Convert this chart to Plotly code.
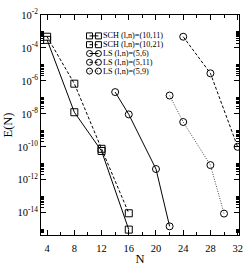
import plotly.graph_objects as go

# ---- data ----
sch_a_N = [4, 8, 12, 16]
sch_a_E = [3.1e-4, 1.26e-8, 5.6e-11, 9.5e-16]      # SCH (l,n)=(10,11) solid
sch_b_N = [4, 8, 12, 16]
sch_b_E = [4.8e-4, 6.8e-7, 7.6e-11, 9.3e-15]       # SCH (l,n)=(10,21) dashed
ls6_N = [14, 16, 20, 22]
ls6_E = [2.1e-7, 9.3e-9, 4.5e-12, 1.5e-15]         # LS (l,n)=(5,6) solid
ls11_N = [24, 28, 32]
ls11_E = [4.8e-4, 2.9e-6, 1.0e-10]                 # LS (l,n)=(5,11) dashed
ls9_N = [22, 24, 28, 30]
ls9_E = [1.3e-7, 3.2e-9, 7.8e-12, 8.9e-15]         # LS (l,n)=(5,9) dotted

legend_labels = ["SCH (l,n)=(10,11)", "SCH (l,n)=(10,21)", "LS (l,n)=(5,6)",
                 "LS (l,n)=(5,11)", "LS (l,n)=(5,9)"]
x_ticks = [4, 8, 12, 16, 20, 24, 28, 32]
x_minor = [6, 10, 14, 18, 22, 26, 30]
y_exps = [-2, -4, -6, -8, -10, -12, -14]

FONT = "Liberation Serif"
series = [
    (sch_a_N, sch_a_E, "square-open", "solid", 1.0, "black"),
    (sch_b_N, sch_b_E, "square-open", "3px,2px", 1.0, "black"),
    (ls6_N, ls6_E, "circle-open", "solid", 1.0, "black"),
    (ls11_N, ls11_E, "circle-open", "3px,2px", 1.0, "black"),
    (ls9_N, ls9_E, "circle-open", "1px,1.5px", 1.0, "#444"),
]

fig = go.Figure()
for (xs, ys, sym, dash, lw, col) in series:
    fig.add_trace(go.Scatter(
        x=xs, y=ys, mode="lines+markers", showlegend=False,
        line=dict(color=col, width=lw, dash=dash),
        marker=dict(symbol=sym, size=7, color="black", line=dict(width=1, color="black")),
    ))

# custom compact legend on an overlay axis pair (0..1 of plot area)
row_y = [0.905, 0.865, 0.825, 0.785, 0.745]
for i, (xs, ys, sym, dash, lw, col) in enumerate(series):
    fig.add_trace(go.Scatter(
        x=[0.245, 0.29], y=[row_y[i], row_y[i]], xaxis="x2", yaxis="y2",
        mode="lines+markers", showlegend=False, hoverinfo="skip",
        line=dict(color=col, width=lw, dash=dash),
        marker=dict(symbol=sym, size=6, color="black", line=dict(width=1, color="black")),
    ))
    fig.add_annotation(x=0.305, y=row_y[i], xref="paper", yref="paper",
                       text=legend_labels[i], showarrow=False, xanchor="left",
                       yanchor="middle", font=dict(family=FONT, size=8.2, color="black"))

y_minor = []
for e in [-16, -14, -12, -10, -8, -6, -4]:
    for k in range(2, 11):
        y_minor.append(k * 10.0 ** e)

fig.update_layout(
    width=250, height=270,
    margin=dict(l=41, r=7, t=7, b=24),
    paper_bgcolor="white", plot_bgcolor="white",
    font=dict(family=FONT, color="black"),
    xaxis=dict(
        range=[3.1, 32.2], tickvals=x_ticks, ticks="inside", ticklen=5,
        tickwidth=1, tickcolor="black", showline=True, linecolor="black",
        linewidth=1, mirror="allticks", showgrid=False, zeroline=False,
        tickfont=dict(family=FONT, size=10.5), ticklabelstandoff=3,
        minor=dict(tickvals=x_minor, ticks="inside", ticklen=3, tickcolor="black"),
        title=dict(text="N", font=dict(family=FONT, size=12.5), standoff=1),
    ),
    yaxis=dict(
        type="log", range=[-15.35, -2], tickvals=[10.0 ** e for e in y_exps],
        ticktext=["10<sup>%d</sup>" % e for e in y_exps],
        ticks="inside", ticklen=5, tickwidth=1, tickcolor="black",
        showline=True, linecolor="black", linewidth=1, mirror="allticks",
        showgrid=False, zeroline=False, tickfont=dict(family=FONT, size=10.5),
        minor=dict(tickvals=y_minor, ticks="inside", ticklen=3, tickcolor="black"),
        title=dict(text="E(N)", font=dict(family=FONT, size=12.5), standoff=2),
    ),
    xaxis2=dict(overlaying="x", range=[0, 1], visible=False, fixedrange=True),
    yaxis2=dict(overlaying="y", range=[0, 1], visible=False, fixedrange=True),
)

fig.write_html("out.html", config={"displayModeBar": False},
               post_script="document.body.style.margin='0';")
